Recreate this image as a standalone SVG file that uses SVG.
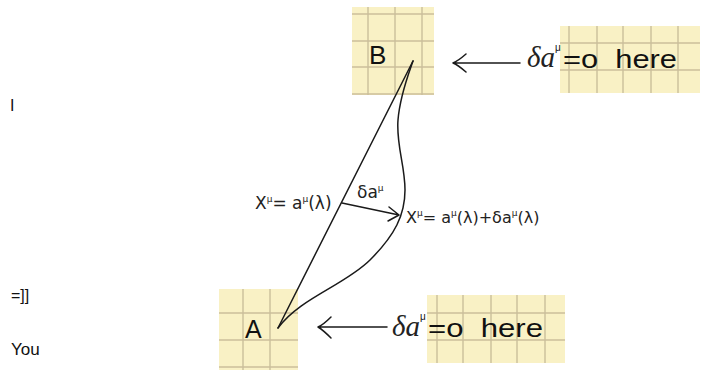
<svg xmlns="http://www.w3.org/2000/svg" width="703" height="381" viewBox="0 0 703 381">
<defs>
<style>
.paper{fill:#f9f1c5;}
.grid{stroke:#cbbf9b;stroke-width:1.4;fill:none;}
.ln{stroke:#1a1a1a;stroke-width:1.5;fill:none;stroke-linecap:round;stroke-linejoin:round;}
.sans{font-family:"Liberation Sans",Arial,sans-serif;fill:#111;}
.ser{font-family:"Liberation Serif","Times New Roman",serif;font-style:italic;fill:#222;}
.hw{font-family:"DejaVu Sans","Liberation Sans",sans-serif;fill:#222;}
</style>
</defs>
<rect width="703" height="381" fill="#ffffff"/>

<g id="side-text" class="sans" font-size="16">
<text x="10" y="111">I</text>
<text x="11" y="301">=]]</text>
<text x="11" y="355" font-size="17">You</text>
</g>

<g id="nodeB">
<rect class="paper" x="352" y="7" width="82" height="88"/>
<path class="grid" d="M368,7V95M395,7V95M422,7V95M352,14H434M352,41H434M352,67H434M352,94H434"/>
<text class="sans" x="369" y="64" font-size="26">B</text>
</g>

<g id="nodeA">
<rect class="paper" x="219" y="289" width="79" height="81"/>
<path class="grid" d="M243,289V370M270,289V370M219,313H298M219,340H298M219,367H298"/>
<text class="sans" x="245" y="338" font-size="25">A</text>
</g>

<g id="noteTop">
<rect class="paper" x="560" y="26" width="140" height="67"/>
<path class="grid" d="M569,26V93M597,26V93M623,26V93M651,26V93M678,26V93M560,43H700M560,70H700"/>
<text class="ser" x="527" y="67" font-size="29">δa</text>
<text class="sans" x="555" y="51" font-size="10">μ</text>
<text class="sans" x="563" y="68" font-size="26" textLength="114" lengthAdjust="spacingAndGlyphs" xml:space="preserve">=o  here</text>
</g>

<g id="noteBottom">
<rect class="paper" x="427" y="295" width="138" height="68"/>
<path class="grid" d="M437,295V363M463,295V363M491,295V363M517,295V363M545,295V363M427,313H565M427,340H565"/>
<text class="ser" x="392" y="336" font-size="29">δa</text>
<text class="sans" x="420" y="320" font-size="10">μ</text>
<text class="sans" x="428" y="337" font-size="26" textLength="115" lengthAdjust="spacingAndGlyphs" xml:space="preserve">=o  here</text>
</g>

<g id="connectors">
<path class="ln" d="M278,328L413,61"/>
<path class="ln" d="M278,328C300,298 345,285 370,260C395,235 405,215 405,190C405,165 396,145 398,120C400,95 410,70 413,61"/>
<path class="ln" d="M342,203L399,215M389,207L399,215L388,221"/>
<path class="ln" d="M453,63L520,63M466,54Q458,61 453,63Q458,65 466,72"/>
<path class="ln" d="M318,327L387,327M331,317Q323,325 318,327Q323,330 331,338"/>
</g>

<g id="labels" class="hw">
<text x="255" y="209" font-size="17">X<tspan dy="-7" font-size="9">μ</tspan><tspan dy="7">= a</tspan><tspan dy="-7" font-size="9">μ</tspan><tspan dy="7">(λ)</tspan></text>
<text x="357" y="198" font-size="17">δa<tspan dy="-7" font-size="9">μ</tspan></text>
<text x="406" y="223" font-size="16">X<tspan dy="-7" font-size="9">μ</tspan><tspan dy="7">= a</tspan><tspan dy="-7" font-size="9">μ</tspan><tspan dy="7">(λ)+δa</tspan><tspan dy="-7" font-size="9">μ</tspan><tspan dy="7">(λ)</tspan></text>
</g>
</svg>
